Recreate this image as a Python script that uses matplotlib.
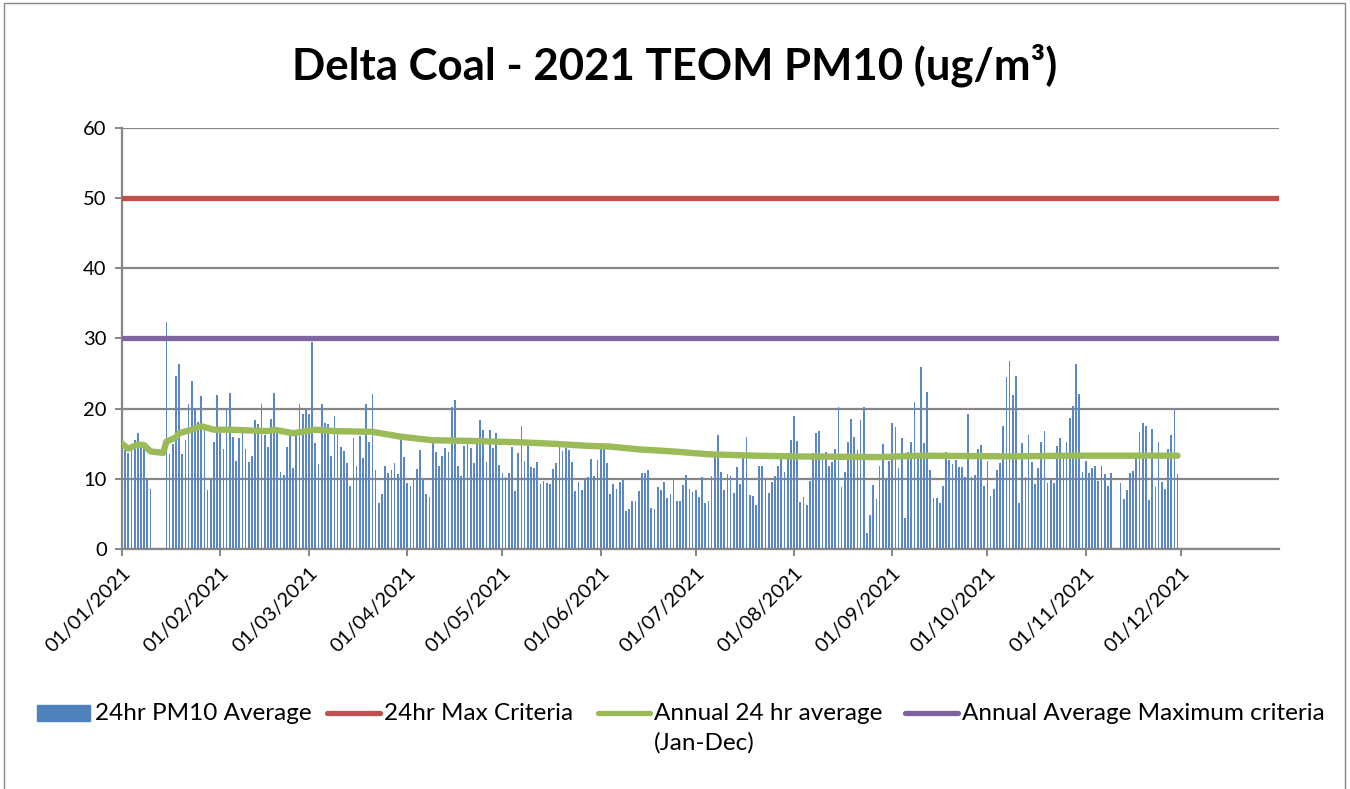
import numpy as np
import pandas as pd
import matplotlib
matplotlib.use('Agg')
import matplotlib.pyplot as plt
import matplotlib.dates as mdates
from matplotlib.patches import Rectangle
from matplotlib.lines import Line2D

plt.rcParams['font.family'] = ['Lato', 'DejaVu Sans']

nan = np.nan

# daily 24hr PM10 averages, 01/01/2021 .. 30/11/2021 (nan = no data)
pm10 = [
    14.6, 14.1, 13.7, 14.1, 15.6, 16.6, 14.6, 14.5, 9.8, 8.6,
    nan, nan, nan, nan,
    32.4, 13.6, 15.0, 24.6, 26.4, 13.6, 15.5, 20.7, 23.9, 20.0, 18.1, 21.8,
    17.4, 8.4, 9.8, 15.2, 21.9, 16.5, 14.2, 20.0, 22.2, 16.0,
    12.5, 15.8, 16.5, 14.3, 12.4, 13.2, 18.4, 17.8, 20.7, 16.2, 14.5, 18.5,
    22.2, 16.5, 11.0, 10.5, 14.6, 16.2, 11.6, 16.2, 20.7, 19.2, 19.8, 19.2,
    29.5, 15.1, 12.1, 20.7, 17.9, 17.8, 13.2, 19.0, 16.5, 14.6, 13.9, 12.3,
    9.0, 15.8,
    11.9, 16.1, 13.0, 20.7, 15.2, 22.1, 11.3, 6.5, 7.8, 11.9, 10.9, 11.3,
    12.3, 10.7, 15.6, 13.1, 9.4, 9.0, 9.8, 11.4, 14.1, 9.8, 7.9, 7.4, 15.2,
    13.8, 11.8, 13.2, 14.4, 13.8, 20.2, 21.2, 11.8, 10.4, 14.7, 15.0, 14.4,
    12.2, 15.8, 18.4, 17.0, 12.4, 17.0, 14.4, 16.6, 12.0, 10.9, 10.2, 10.8,
    14.6, 8.2, 13.7, 17.6, 12.5, 14.7, 11.7, 11.5, 12.4, 9.2, 9.7, 9.4, 9.3,
    11.4, 12.2, 14.5, 14.0, 14.4, 14.1, 12.4, 8.3, 9.5, 8.4, 10.0, 10.2,
    12.8, 10.4, 12.7, 14.2, 14.2, 12.3, 7.8, 9.2, 8.5, 9.5, 10.0, 5.4, 5.7,
    6.9, 6.8, 8.3, 10.8, 10.9, 11.2, 5.8, 5.7, 8.8, 8.4, 9.5, 7.2, 7.9, 9.8,
    6.8, 6.9, 9.1, 10.6, 8.6, 8.1, 8.4, 7.4, 10.3, 6.6, 6.9,
    10.4, 13.1, 16.3, 11.0, 8.4, 10.7, 10.4, 8.0, 11.7, 9.3, 13.7, 16.0,
    7.7, 7.5, 6.3, 11.8, 11.8, 9.8, 8.0, 9.5, 10.4, 11.8, 12.8, 11.0, 13.7,
    15.6, 18.9, 15.4, 6.7, 7.4, 6.3, 9.7, 13.7, 16.6, 16.8, 13.7, 13.8,
    11.9, 12.4, 14.3, 20.3, 8.8, 11.0, 15.3, 18.5, 16.0, 14.1, 18.4, 20.2,
    2.3, 4.9, 9.1, 7.1, 11.8, 15.0, 9.9, 12.5, 18.0, 17.4, 11.5, 15.8, 4.4,
    13.8, 15.2, 21.0, 12.8, 25.9, 15.1, 22.4, 11.3, 7.2, 7.3, 6.6, 9.0,
    13.8, 12.7, 12.1, 12.7, 11.7, 11.7, 10.2, 19.3, 10.2, 10.6, 14.2, 14.8,
    9.0, 12.5, 7.5, 8.6, 11.2, 12.2, 17.5, 24.5, 26.8, 21.9, 24.6, 6.6,
    15.1, 10.3, 16.3, 12.4, 9.3, 11.6, 15.2, 16.8, 9.4, 9.9, 9.4, 14.7, 15.8,
    13.0, 15.3, 18.6, 20.4, 26.4, 22.1, 11.0, 12.5, 10.8, 11.6, 11.8, 9.7,
    11.9, 10.7, 9.0, 10.8, nan, nan, 9.4, 7.1, 8.4, 10.9, 11.1, 13.1, 16.7,
    18.0, 17.5, 7.0, 17.1, 8.9, 15.2, 9.5, 8.6, 14.2, 16.2, 19.9, 10.7,
]
dates = pd.date_range('2021-01-01', periods=len(pm10), freq='D')

# running annual 24 hr average
avg_dates = pd.to_datetime([
    '2021-01-01', '2021-01-03', '2021-01-06', '2021-01-08', '2021-01-10',
    '2021-01-14', '2021-01-15', '2021-01-18', '2021-01-19', '2021-01-23',
    '2021-01-26', '2021-01-30', '2021-02-04', '2021-02-16', '2021-02-18',
    '2021-02-24', '2021-03-03', '2021-03-09', '2021-03-21', '2021-03-30',
    '2021-04-09', '2021-04-21', '2021-05-07', '2021-05-17', '2021-05-28',
    '2021-06-04', '2021-06-13', '2021-06-24', '2021-07-05', '2021-07-20',
    '2021-07-31', '2021-08-28', '2021-09-10', '2021-10-08', '2021-10-28',
    '2021-11-30',
])
avg_vals = [
    15.0, 14.3, 14.9, 14.8, 13.9, 13.7, 15.3, 15.9, 16.5, 17.0, 17.5, 17.0,
    17.0, 16.8, 17.0, 16.5, 17.0, 16.8, 16.7, 16.0, 15.5, 15.4, 15.2, 15.0,
    14.7, 14.6, 14.2, 13.9, 13.5, 13.3, 13.2, 13.1, 13.3, 13.2, 13.3, 13.3,
]

max_24hr = 50
annual_max = 30
month_ticks = pd.date_range('2021-01-01', '2021-12-01', freq='MS')

fig = plt.figure(figsize=(13.5, 7.89), dpi=100)
ax = fig.add_axes([122 / 1350, 1 - 549 / 789, 1157 / 1350, 421 / 789])

ax.bar(dates, pm10, width=0.55, color='#5B87C5', zorder=2)
ax.axhline(max_24hr, color='#C0504D', lw=3.8, zorder=3)
ax.plot(avg_dates, avg_vals, color='#9BBB59', lw=4.6, zorder=4,
        solid_joinstyle='round', solid_capstyle='round')
ax.axhline(annual_max, color='#8064A2', lw=3.8, zorder=3)

ax.set_xlim(pd.Timestamp('2021-01-01'), pd.Timestamp('2022-01-01'))
ax.set_ylim(0, 60)
ax.set_yticks(range(0, 61, 10))
ax.set_xticks(month_ticks)
ax.xaxis.set_major_formatter(mdates.DateFormatter('%d/%m/%Y'))
plt.setp(ax.get_xticklabels(), rotation=45, ha='right', rotation_mode='anchor')

ax.yaxis.grid(True, color='#868686', lw=1.6)
ax.set_axisbelow(True)
for side in ['top', 'right']:
    ax.spines[side].set_visible(False)
for side in ['left', 'bottom']:
    ax.spines[side].set_color('#868686')
    ax.spines[side].set_linewidth(1.6)
ax.tick_params(direction='out', length=5, width=1.4, color='#868686',
               labelsize=14.5, pad=6)

fig.text(0.5, 1 - 65 / 789, 'Delta Coal - 2021 TEOM PM10 (ug/m³)',
         ha='center', va='center', fontsize=31.5, fontweight='bold')

# legend drawn by hand to match the original layout
ly = 1 - 713 / 789
fs_leg = 17.5
fig.add_artist(Rectangle((37 / 1350, ly - 8 / 789), 53 / 1350, 16 / 789,
                         transform=fig.transFigure, color='#4F81BD'))
for x0, x1, col in [(327, 380, '#C0504D'), (598, 650, '#9BBB59'), (905, 958, '#8064A2')]:
    fig.add_artist(Line2D([x0 / 1350, x1 / 1350], [ly, ly], transform=fig.transFigure,
                          color=col, lw=3.8, solid_capstyle='round'))
for x, label in [(95, '24hr PM10 Average'), (384, '24hr Max Criteria'),
                 (654, 'Annual 24 hr average'), (962, 'Annual Average Maximum criteria')]:
    fig.text(x / 1350, ly, label, ha='left', va='center', fontsize=fs_leg)
fig.text(654 / 1350, 1 - 743 / 789, '(Jan-Dec)', ha='left', va='center', fontsize=fs_leg)

fig.add_artist(Rectangle((4 / 1350, -0.01), 1341 / 1350, 1.01 - 3 / 789,
                         transform=fig.transFigure, fill=False, ec='#868686', lw=1))

fig.savefig('out.png', dpi=100)
